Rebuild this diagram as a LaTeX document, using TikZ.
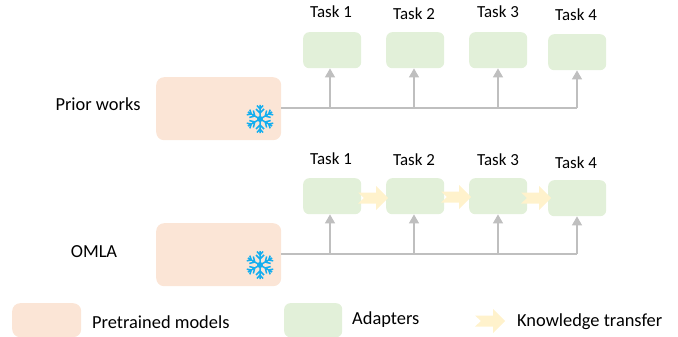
\documentclass[tikz,border=0pt]{standalone}
\usepackage{fontspec}
\setmainfont{Carlito}
\usepackage{xcolor}
\usetikzlibrary{arrows.meta}
\usetikzlibrary{positioning}
\definecolor{modelfill}{HTML}{FBE5D6}
\definecolor{adapterfill}{HTML}{E2F0D9}
\definecolor{transferfill}{HTML}{FFF2CC}
\definecolor{linegray}{HTML}{BFBFBF}
\definecolor{flakeblue}{HTML}{14AEEF}
\begin{document}
\begin{tikzpicture}[
	x=1pt,y=-1pt,
	font=\fontsize{18.4}{22}\selectfont
]
\tikzset{
    modelrect/.style = {rectangle, rounded corners=8pt, anchor=north west, inner sep=0pt, fill=modelfill, minimum width=125pt, minimum height=63pt},
    adapterrect/.style = {rectangle, rounded corners=6pt, anchor=north west, inner sep=0pt, fill=adapterfill, minimum width=58pt, minimum height=36pt},
    tasklabel/.style = {font=\fontsize{16.9}{20}\selectfont},
    trunk/.style = {draw=linegray, line width=2pt},
    branch/.style = {draw=linegray, line width=1.4pt, -{Triangle[length=9pt,width=10pt]}},
    label/.style = {anchor=west, inner sep=0pt},
    transfer/.pic = {
        \fill[transferfill] (-15,-5.5) -- (3,-5.5) -- (3,-12) -- (15,0) -- (3,12) -- (3,5.5) -- (-15,5.5) -- (-9,0) -- cycle;
    },
    flake/.pic = {
        \foreach \ang in {30,90,...,330} {
            \draw[flakeblue, line width=1.5pt, rotate=\ang] (0,0) -- (14,0)
                (6,0) -- (10,-4) (6,0) -- (10,4)
                (10,0) -- (13.5,-3) (10,0) -- (13.5,3);
        }
        \fill[flakeblue] (0,0) circle (3);
    }
}
\useasboundingbox (0,0) rectangle (678,337);
% prior works
\node[modelrect] (prior) at (156,77) {};
\node[adapterrect] (pa1) at (303,32) {};
\node[adapterrect] (pa2) at (386,32) {};
\node[adapterrect] (pa3) at (469,32) {};
\node[adapterrect] (pa4) at (548,34) {};
\node[] (pname) at (98,104) {Prior works};
\node[tasklabel] (pt1) at (331,12) {Task 1};
\node[tasklabel] (pt2) at (414,14) {Task 2};
\node[tasklabel] (pt3) at (498,12) {Task 3};
\node[tasklabel] (pt4) at (576,15) {Task 4};
\coordinate (pc1) at (330,108);
\coordinate (pc2) at (414,108);
\coordinate (pc3) at (498,108);
\coordinate (pc4) at (577,108);
\draw[trunk] (prior.east |- pc1) -- (pc4);
\draw[branch] (pc1) -- (pc1 |- pa1.south);
\draw[branch] (pc2) -- (pc2 |- pa2.south);
\draw[branch] (pc3) -- (pc3 |- pa3.south);
\draw[branch] (pc4) -- (pc4 |- pa4.south);
\pic at (260,119) {flake};
% omla
\node[modelrect] (omla) at (156,223) {};
\node[adapterrect] (oa1) at (303,178) {};
\node[adapterrect] (oa2) at (386,178) {};
\node[adapterrect] (oa3) at (469,178) {};
\node[adapterrect] (oa4) at (548,180) {};
\node[] (oname) at (94,252) {OMLA};
\node[tasklabel] (ot1) at (331,159) {Task 1};
\node[tasklabel] (ot2) at (414,160) {Task 2};
\node[tasklabel] (ot3) at (498,160) {Task 3};
\node[tasklabel] (ot4) at (576,163) {Task 4};
\coordinate (oc1) at (330,254);
\coordinate (oc2) at (414,254);
\coordinate (oc3) at (498,254);
\coordinate (oc4) at (577,254);
\draw[trunk] (omla.east |- oc1) -- (oc4);
\draw[branch] (oc1) -- (oc1 |- oa1.south);
\draw[branch] (oc2) -- (oc2 |- oa2.south);
\draw[branch] (oc3) -- (oc3 |- oa3.south);
\draw[branch] (oc4) -- (oc4 |- oa4.south);
\pic at (260,265) {flake};
\pic at (373,198) {transfer};
\pic at (456,197) {transfer};
\pic at (536,198) {transfer};
% legend
\node[modelrect,minimum width=69pt,minimum height=34pt] (lmodel) at (12,303) {};
\node[adapterrect,minimum height=34pt] (ladapter) at (284,303) {};
\pic at (490,321) {transfer};
\node[label] (lmodeltxt) at (92,322) {Pretrained models};
\node[label] (ladaptertxt) at (352,320) {Adapters};
\node[label] (ltransfertxt) at (517,322) {Knowledge transfer};
\end{tikzpicture}
\end{document}
